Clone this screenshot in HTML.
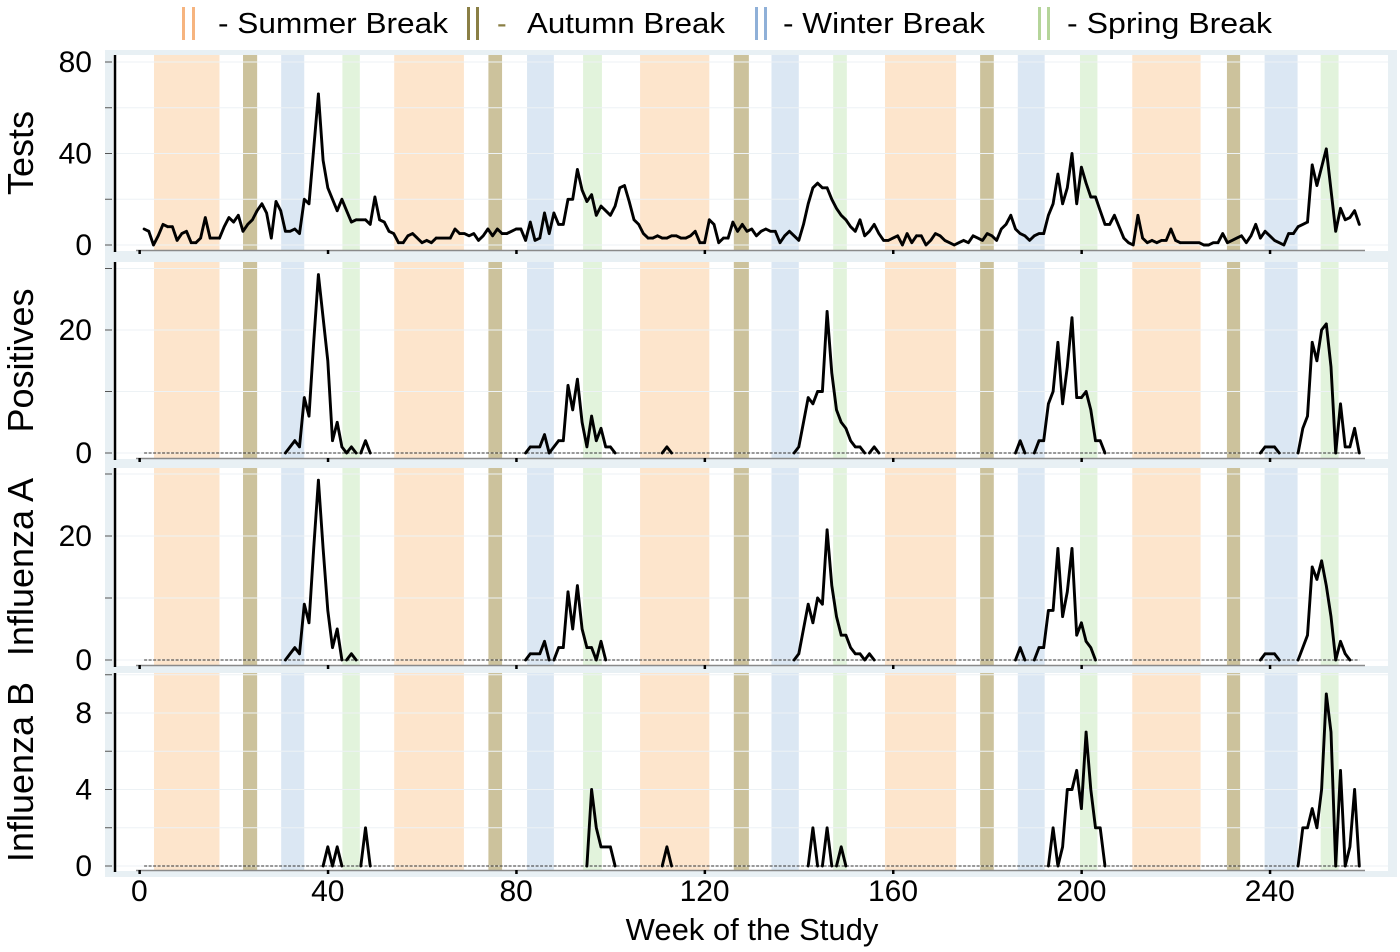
<!DOCTYPE html>
<html><head><meta charset="utf-8">
<style>
html,body{margin:0;padding:0;background:#fff;}
svg{display:block;font-family:"Liberation Sans",Arial,sans-serif;}
</style></head>
<body>
<svg id="chart" width="1400" height="952" viewBox="0 0 1400 952" xmlns="http://www.w3.org/2000/svg">
  <g id="legend">
    <g>
      <rect x="182" y="7" width="3" height="33" fill="#f6b47f"/><rect x="192" y="7" width="3" height="33" fill="#f6b47f"/>
      <text x="218" y="33" font-size="29" textLength="230" lengthAdjust="spacingAndGlyphs">- Summer Break</text>
    </g>
    <g>
      <rect x="467" y="7" width="3" height="33" fill="#8a7f45"/><rect x="476" y="7" width="3" height="33" fill="#8a7f45"/>
      <text x="497" y="33" font-size="29" fill="#8a7f45">-</text>
      <text x="527" y="33" font-size="29" textLength="198" lengthAdjust="spacingAndGlyphs">Autumn Break</text>
    </g>
    <g>
      <rect x="755" y="7" width="3" height="33" fill="#8fb0d8"/><rect x="764" y="7" width="3" height="33" fill="#8fb0d8"/>
      <text x="783" y="33" font-size="29" textLength="202" lengthAdjust="spacingAndGlyphs">- Winter Break</text>
    </g>
    <g>
      <rect x="1038" y="7" width="3" height="33" fill="#b5d59a"/><rect x="1047" y="7" width="3" height="33" fill="#b5d59a"/>
      <text x="1067" y="33" font-size="29" textLength="205" lengthAdjust="spacingAndGlyphs">- Spring Break</text>
    </g>
  </g>
  <rect x="105" y="50" width="1292" height="827" fill="#e8f0f4"/>
  <g id="panels"></g>
  <g id="xaxis"></g>
  <text x="752" y="940" font-size="31" text-anchor="middle">Week of the Study</text>
</svg>
<script>
const weeks = [];
for (let w = 1; w <= 259; w++) weeks.push(w);

const tests = [
7,6,0,4,9,8,8,2,5,6,
1,1,3,12,3,3,3,8,12,10,
13,6,9,11,15,18,14,3,19,15,
6,6,7,5,20,18,42,66,37,25,
20,15,20,15,10,11,11,11,9,21,
11,10,6,5,1,1,4,5,3,1,
2,1,3,3,3,3,7,5,5,4,
5,2,4,7,4,7,5,5,6,7,
7,2,10,2,3,14,5,14,9,9,
20,20,33,24,19,22,13,17,15,13,
17,25,26,19,11,9,5,3,3,4,
3,3,4,4,3,3,4,6,1,1,
11,9,1,3,3,10,6,9,6,7,
4,6,7,6,6,1,4,6,4,2,
9,18,25,27,25,25,20,16,13,11,
8,6,11,4,6,9,5,2,2,3,
4,0,5,1,4,4,0,2,5,4,
2,1,0,1,2,1,4,3,2,5,
4,2,7,9,13,7,5,4,2,4,
5,5,13,18,31,18,25,40,18,34,
27,21,21,15,9,9,13,8,3,1,
0,13,3,1,2,1,2,2,7,2,
1,1,1,1,1,0,0,1,1,5,
1,2,3,4,1,4,9,3,6,4,
2,1,0,5,5,8,9,10,35,26,
34,42,24,6,16,11,12,15,9];

const positives = [
0,0,0,0,0,0,0,0,0,0,
0,0,0,0,0,0,0,0,0,0,
0,0,0,0,0,0,0,0,0,0,
0,1,2,1,9,6,18,29,22,15,
2,5,1,0,1,0,0,2,0,0,
0,0,0,0,0,0,0,0,0,0,
0,0,0,0,0,0,0,0,0,0,
0,0,0,0,0,0,0,0,0,0,
0,0,1,1,1,3,0,1,2,2,
11,7,12,5,1,6,2,4,1,1,
0,0,0,0,0,0,0,0,0,0,
0,1,0,0,0,0,0,0,0,0,
0,0,0,0,0,0,0,0,0,0,
0,0,0,0,0,0,0,0,0,1,
5,9,8,10,10,23,13,7,5,4,
2,1,1,0,0,1,0,0,0,0,
0,0,0,0,0,0,0,0,0,0,
0,0,0,0,0,0,0,0,0,0,
0,0,0,0,0,0,2,0,0,0,
2,2,8,10,18,8,14,22,9,9,
10,7,2,2,0,0,0,0,0,0,
0,0,0,0,0,0,0,0,0,0,
0,0,0,0,0,0,0,0,0,0,
0,0,0,0,0,0,0,0,1,1,
1,0,0,0,0,0,4,6,18,15,
20,21,14,0,8,1,1,4,0];

const fluA = [
0,0,0,0,0,0,0,0,0,0,
0,0,0,0,0,0,0,0,0,0,
0,0,0,0,0,0,0,0,0,0,
0,1,2,1,9,6,18,29,18,8,
2,5,0,0,1,0,0,0,0,0,
0,0,0,0,0,0,0,0,0,0,
0,0,0,0,0,0,0,0,0,0,
0,0,0,0,0,0,0,0,0,0,
0,0,1,1,1,3,0,0,2,2,
11,5,12,5,2,2,0,3,0,0,
0,0,0,0,0,0,0,0,0,0,
0,0,0,0,0,0,0,0,0,0,
0,0,0,0,0,0,0,0,0,0,
0,0,0,0,0,0,0,0,0,1,
5,9,6,10,9,21,12,7,4,4,
2,1,1,0,1,0,0,0,0,0,
0,0,0,0,0,0,0,0,0,0,
0,0,0,0,0,0,0,0,0,0,
0,0,0,0,0,0,2,0,0,0,
2,2,8,8,18,7,11,18,4,6,
3,2,0,0,0,0,0,0,0,0,
0,0,0,0,0,0,0,0,0,0,
0,0,0,0,0,0,0,0,0,0,
0,0,0,0,0,0,0,0,1,1,
1,0,0,0,0,0,2,4,15,13,
16,12,7,0,3,1,0,0,0];

const fluB = [
0,0,0,0,0,0,0,0,0,0,
0,0,0,0,0,0,0,0,0,0,
0,0,0,0,0,0,0,0,0,0,
0,0,0,0,0,0,0,0,0,1,
0,1,0,0,0,0,0,2,0,0,
0,0,0,0,0,0,0,0,0,0,
0,0,0,0,0,0,0,0,0,0,
0,0,0,0,0,0,0,0,0,0,
0,0,0,0,0,0,0,0,0,0,
0,0,0,0,0,4,2,1,1,1,
0,0,0,0,0,0,0,0,0,0,
0,1,0,0,0,0,0,0,0,0,
0,0,0,0,0,0,0,0,0,0,
0,0,0,0,0,0,0,0,0,0,
0,0,2,0,0,2,0,0,1,0,
0,0,0,0,0,0,0,0,0,0,
0,0,0,0,0,0,0,0,0,0,
0,0,0,0,0,0,0,0,0,0,
0,0,0,0,0,0,0,0,0,0,
0,0,0,2,0,1,4,4,5,3,
7,4,2,2,0,0,0,0,0,0,
0,0,0,0,0,0,0,0,0,0,
0,0,0,0,0,0,0,0,0,0,
0,0,0,0,0,0,0,0,0,0,
0,0,0,0,0,0,2,2,3,2,
4,9,7,0,5,0,1,4,0];

// break periods (in study weeks)
const breakTypes = ["summer","autumn","winter","spring"];
const breakStarts = [
  [3.1, 54.1, 106.3, 158.3, 210.8],
  [22.0, 74.1, 126.2, 178.5, 230.9],
  [30.1, 82.3, 134.2, 186.5, 238.9],
  [43.1, 94.2, 147.3, 199.7, 250.8]];
const breakEnds = [
  [17.0, 68.9, 121.0, 173.4, 225.3],
  [25.0, 77.0, 129.4, 181.4, 233.7],
  [35.0, 88.0, 140.0, 192.2, 245.9],
  [46.8, 98.2, 150.2, 203.4, 254.6]];
const xTickLabels = [0, 40, 80, 120, 160, 200, 240];

const panelTitles = ["Tests","Positives","Influenza A","Influenza B"];
const gridSteps = [[0,20,40,60,80],[0,10,20,30],[0,10,20,30],[0,2,4,6,8,10]];
const labelTicks = [[0,40,80],[0,20],[0,20],[0,4,8]];
const series = [tests, positives, fluA, fluB];

const NS = "http://www.w3.org/2000/svg";
const colors = {summer:"#fde5cc", autumn:"#ccc29c", winter:"#dbe7f3", spring:"#e2f3dc"};
const panelTop = [55, 262, 468, 673];
const panelBot = [251, 459, 666, 871];
const zeroY = [245, 453, 660, 866];
const topValY = [62, 330, 536, 713];
const topValV = [80, 20, 20, 8];
const xScale = w => 139.4 + 4.71 * w;

function mk(tag, attrs, parent) {
  const e = document.createElementNS(NS, tag);
  for (const k in attrs) e.setAttribute(k, attrs[k]);
  parent.appendChild(e);
  return e;
}

const panels = document.getElementById("panels");
for (let p = 0; p < 4; p++) {
  const yScale = v => zeroY[p] - (zeroY[p] - topValY[p]) / topValV[p] * v;
  const g = mk("g", {}, panels);
  
  
  const bg = mk("rect", {x:113, y:panelTop[p], width:1275, height:panelBot[p]-panelTop[p], fill:"#fff"}, g);
  
  
  for (let t = 0; t < 4; t++) {
    for (let i = 0; i < breakStarts[t].length; i++) {
      const x0 = xScale(breakStarts[t][i]), x1 = xScale(breakEnds[t][i]);
      const r = mk("rect", {x:x0, y:panelTop[p], width:x1-x0, height:panelBot[p]-panelTop[p], fill:colors[breakTypes[t]]}, g);
      
      
    }
  }
  gridSteps[p].forEach(v => {
    const y = yScale(v);
    if (y < panelTop[p]) return;
    const gl = mk("line", {x1:116, x2:1388, y1:y, y2:y, stroke:"#edf2f5", "stroke-width":1}, g);
    
    
    const tk = mk("line", {x1:105, x2:112, y1:y, y2:y, stroke:"#555", "stroke-width":1}, g);
    
    
  });
  labelTicks[p].forEach(v => {
    const t = mk("text", {x:92, y:yScale(v)+10, "font-size":30, "text-anchor":"end"}, g);
    t.textContent = v;
    
    
  });
  const ya = mk("line", {x1:115, x2:115, y1:panelTop[p], y2:panelBot[p]+1, stroke:"#000", "stroke-width":2.5}, g);
  
  
  const xa = mk("line", {x1:136, x2:1365, y1:panelBot[p]-0.5, y2:panelBot[p]-0.5, stroke:"#8a8a8a", "stroke-width":1.5}, g);
  
  
  xTickLabels.forEach(v => {
    const d = mk("rect", {x:xScale(v)-1, y:panelBot[p]-1, width:2.5, height:4, fill:"#000"}, g);
    
    
  });
  if (p > 0) {
    const zl = mk("line", {x1:xScale(1), x2:xScale(259), y1:zeroY[p], y2:zeroY[p], stroke:"#333", "stroke-width":1, "stroke-dasharray":"3,1.5"}, g);
    
    
  }
  const vals = series[p];
  let d = "";
  for (let i = 1; i < vals.length; i++) {
    if (p > 0 && vals[i-1] === 0 && vals[i] === 0) continue;
    d += "M" + xScale(weeks[i-1]).toFixed(1) + "," + yScale(vals[i-1]).toFixed(1) +
         "L" + xScale(weeks[i]).toFixed(1) + "," + yScale(vals[i]).toFixed(1);
  }
  const path = mk("path", {d:d, fill:"none", stroke:"#000", "stroke-width":2.9, "stroke-linejoin":"round", "stroke-linecap":"round"}, g);
  
  
  const cy = (panelTop[p] + panelBot[p]) / 2;
  const tt = mk("text", {x:0, y:0, "font-size":36, "text-anchor":"middle", transform:"translate(33," + cy + ") rotate(-90)"}, g);
  tt.textContent = panelTitles[p];
  
  
}
const xg = document.getElementById("xaxis");
xTickLabels.forEach(v => {
  const t = mk("text", {x:xScale(v), y:901, "font-size":30, "text-anchor":"middle"}, xg);
  t.textContent = v;
  
  
});
</script>
</body></html>
